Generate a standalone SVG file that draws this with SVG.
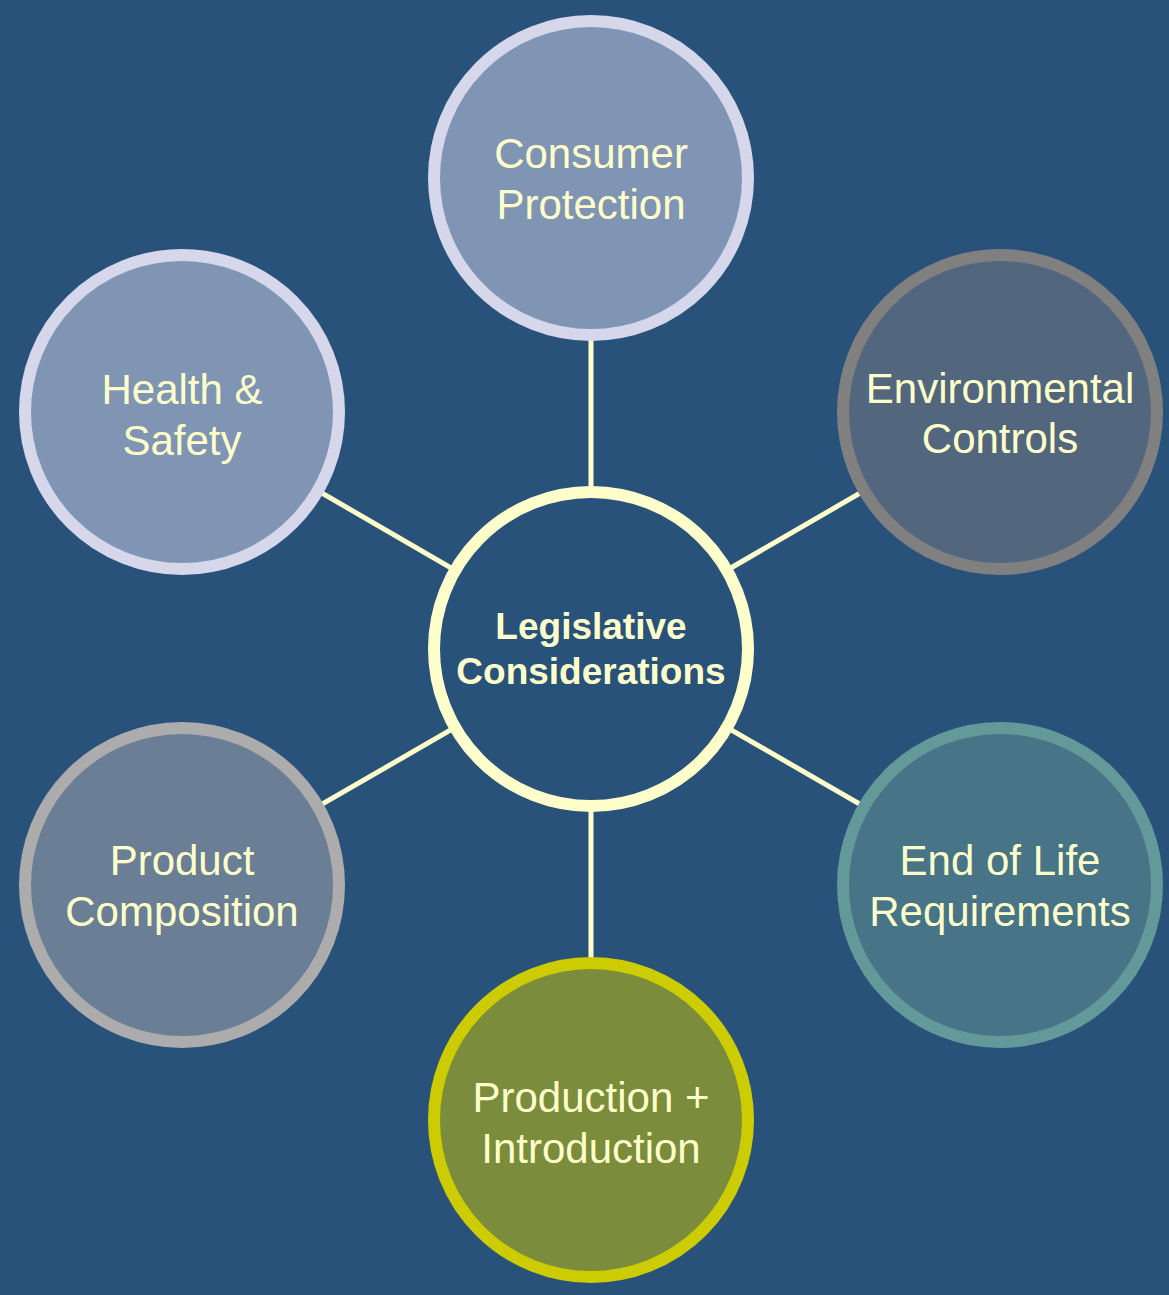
<svg xmlns="http://www.w3.org/2000/svg" width="1169" height="1295" viewBox="0 0 1169 1295">
  <style>
    .bg { fill: #29527A; }
    .link { stroke: #FFFFCC; stroke-width: 5; fill: none; }
    .node { stroke-width: 12; }
    .lbl { font-family: "Liberation Sans", Arial, sans-serif; font-size: 42px; fill: #FFFFCC; text-anchor: middle; }
    .hub { font-family: "Liberation Sans", Arial, sans-serif; font-size: 37px; font-weight: bold; fill: #FFFFCC; text-anchor: middle; }
  </style>
  <rect class="bg" x="0" y="0" width="1169" height="1295"/>

  <!-- spokes from the hub to each surrounding topic -->
  <g id="connectors">
    <line class="link" x1="591" y1="649" x2="591" y2="178"/>
    <line class="link" x1="591" y1="649" x2="1000" y2="412"/>
    <line class="link" x1="591" y1="649" x2="1000" y2="885"/>
    <line class="link" x1="591" y1="649" x2="591" y2="1120"/>
    <line class="link" x1="591" y1="649" x2="182" y2="885"/>
    <line class="link" x1="591" y1="649" x2="182" y2="412"/>
  </g>

  <g id="hub">
    <circle class="node" cx="591" cy="649" r="157" fill="#29527A" stroke="#FFFFCC"/>
    <text class="hub" x="591" y="639">Legislative</text>
    <text class="hub" x="591" y="684">Considerations</text>
  </g>

  <g id="consumer-protection">
    <circle class="node" cx="591" cy="178" r="157" fill="#7F95B3" stroke="#D6D7EB"/>
    <text class="lbl" x="591" y="168">Consumer</text>
    <text class="lbl" x="591" y="219">Protection</text>
  </g>

  <g id="environmental-controls">
    <circle class="node" cx="1000" cy="412" r="157" fill="#52677E" stroke="#808080"/>
    <text class="lbl" x="1000" y="403">Environmental</text>
    <text class="lbl" x="1000" y="453">Controls</text>
  </g>

  <g id="end-of-life">
    <circle class="node" cx="1000" cy="885" r="157" fill="#477487" stroke="#64999A"/>
    <text class="lbl" x="1000" y="875">End of Life</text>
    <text class="lbl" x="1000" y="926">Requirements</text>
  </g>

  <g id="production-introduction">
    <circle class="node" cx="591" cy="1120" r="157" fill="#7B8C3C" stroke="#CCCC00"/>
    <text class="lbl" x="591" y="1112">Production +</text>
    <text class="lbl" x="591" y="1163">Introduction</text>
  </g>

  <g id="product-composition">
    <circle class="node" cx="182" cy="885" r="157" fill="#6A7F95" stroke="#ACACAC"/>
    <text class="lbl" x="182" y="875">Product</text>
    <text class="lbl" x="182" y="926">Composition</text>
  </g>

  <g id="health-safety">
    <circle class="node" cx="182" cy="412" r="157" fill="#7F95B3" stroke="#D6D7EB"/>
    <text class="lbl" x="182" y="404">Health &amp;</text>
    <text class="lbl" x="182" y="455">Safety</text>
  </g>
</svg>
